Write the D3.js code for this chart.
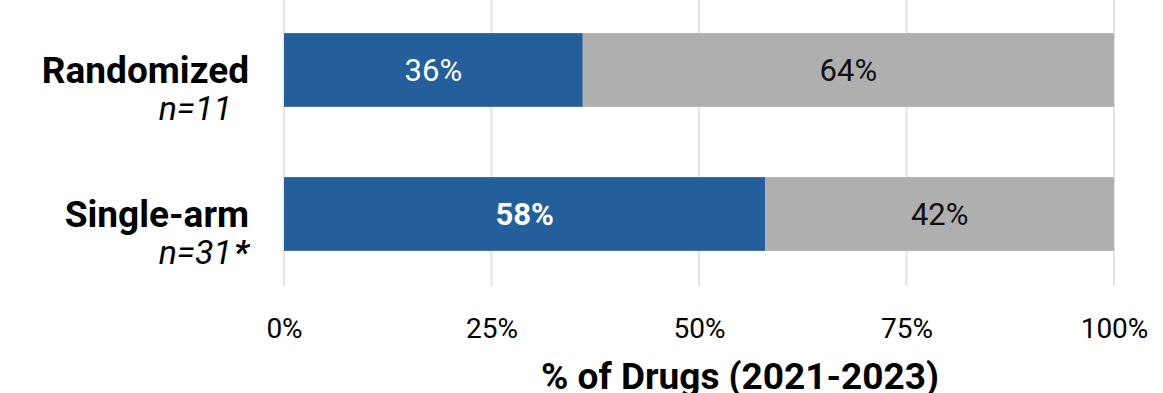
<!DOCTYPE html>
<html><head><meta charset="utf-8">
<script src="https://cdn.jsdelivr.net/npm/d3@7"></script>
<style>html,body{margin:0;padding:0;background:#fff;}svg{display:block;}</style>
</head><body><svg id="c" width="1163" height="393"></svg>
<script>
const categories = ["Randomized", "Single-arm"];
const subLabels = ["n=11", "n=31"];
const subMarks = ["", "*"];
const blueValues = [36, 58];
const grayValues = [64, 42];
const tickValues = [0, 25, 50, 75, 100];
const axisTitle = "% of Drugs (2021-2023)";

const svg = d3.select("#c");
const x = d3.scaleLinear().domain([0, 100]).range([284, 1114]);
const y = d3.scaleBand().domain(categories).range([-2, 286]).paddingInner(0.488).paddingOuter(0.244);

svg.append("g").selectAll("line").data(tickValues).join("line")
  .attr("x1", d => x(d)).attr("x2", d => x(d))
  .attr("y1", y.range()[0]).attr("y2", y.range()[1])
  .attr("stroke", "#e3e3e3").attr("stroke-width", 2);

const rows = categories.map((c, i) => ({c, i, b: blueValues[i], g: grayValues[i]}));

svg.append("g").selectAll("rect").data(rows).join("rect")
  .attr("x", x(0)).attr("y", d => y(d.c))
  .attr("width", d => x(d.b) - x(0)).attr("height", y.bandwidth())
  .attr("fill", "#245f9b");
svg.append("g").selectAll("rect").data(rows).join("rect")
  .attr("x", d => x(d.b)).attr("y", d => y(d.c))
  .attr("width", d => x(d.b + d.g) - x(d.b)).attr("height", y.bandwidth())
  .attr("fill", "#afafaf");

svg.append("g").selectAll("text").data(rows).join("text")
  .attr("x", d => x(d.b / 2)).attr("y", d => y(d.c) + y.bandwidth() / 2 + 11)
  .attr("text-anchor", "middle")
  .attr("font-family", "Roboto").attr("font-size", 31)
  .attr("font-weight", d => d.i === 1 ? "bold" : "normal")
  .attr("fill", "#fff").text(d => d.b + "%");
svg.append("g").selectAll("text").data(rows).join("text")
  .attr("x", d => x(d.b + d.g / 2)).attr("y", d => y(d.c) + y.bandwidth() / 2 + 11)
  .attr("text-anchor", "middle")
  .attr("font-family", "Roboto").attr("font-size", 31)
  .attr("fill", "#111").text(d => d.g + "%");

const lab = svg.append("g").selectAll("g").data(rows).join("g");
lab.append("text").attr("x", 249).attr("y", d => y(d.c) + y.bandwidth() / 2 + 13)
  .attr("text-anchor", "end").attr("font-family", "Roboto").attr("font-weight", "bold")
  .attr("font-size", 37).attr("fill", "#000").text(d => d.c);
lab.append("text").attr("x", 232).attr("y", d => y(d.c) + y.bandwidth() / 2 + 50)
  .attr("text-anchor", "end").attr("font-family", "Roboto").attr("font-style", "italic")
  .attr("font-size", 34).attr("fill", "#000").text(d => subLabels[d.i]);
lab.append("text").attr("x", 234).attr("y", d => y(d.c) + y.bandwidth() / 2 + 50)
  .attr("text-anchor", "start").attr("font-family", "Roboto").attr("font-style", "italic")
  .attr("font-weight", "bold")
  .attr("font-size", 34).attr("fill", "#000").text(d => subMarks[d.i]);

const ax = svg.append("g").attr("transform", "translate(0,315)")
  .call(d3.axisBottom(x).tickValues(tickValues).tickFormat(d => d + "%").tickSize(0));
ax.select(".domain").remove();
ax.selectAll("text").attr("font-family", "Roboto").attr("font-size", 28).attr("fill", "#000");

svg.append("text").attr("x", 740).attr("y", 389).attr("text-anchor", "middle")
  .attr("font-family", "Roboto").attr("font-weight", "bold").attr("font-size", 37)
  .attr("fill", "#000").text(axisTitle);
</script></body></html>
